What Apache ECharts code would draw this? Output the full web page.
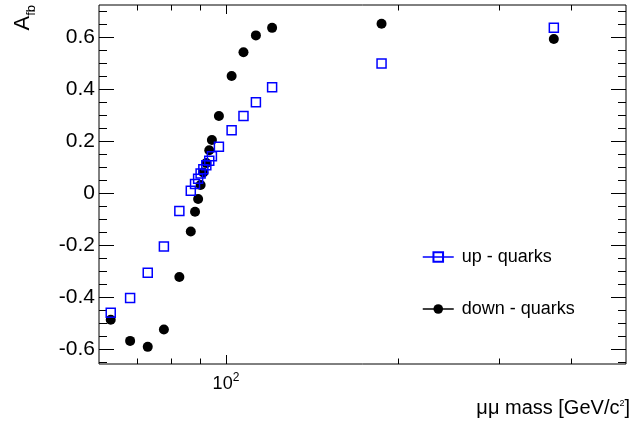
<!DOCTYPE html>
<html><head><meta charset="utf-8">
<script src="https://cdn.jsdelivr.net/npm/echarts@6/dist/echarts.min.js"></script>
<style>html,body{margin:0;padding:0;background:#fff}#c{width:632px;height:421px}</style>
</head><body><div id="c"></div>
<script>
// dimuon mass [GeV/c^2]
const massValues = [62.9, 68.0, 73.0, 77.9, 82.9, 86.8, 88.3, 89.4, 90.3, 91.3, 92.4, 93.5, 94.5, 97.2, 102.3, 107.3, 112.8, 120.4, 187, 374];
// forward-backward asymmetry
const upQuarks   = [-0.460, -0.403, -0.306, -0.205, -0.068, 0.010, 0.036, 0.056, 0.076, 0.093, 0.108, 0.125, 0.143, 0.179, 0.243, 0.298, 0.351, 0.408, 0.500, 0.637];
const downQuarks = [-0.487, -0.568, -0.591, -0.524, -0.322, -0.147, -0.071, -0.022, 0.032, 0.080, 0.117, 0.166, 0.205, 0.298, 0.452, 0.543, 0.608, 0.637, 0.653, 0.594];

const xMajorTicks = [100];
const xMinorTicks = [70, 80, 90, 200, 300, 400];
const yMajorTicks = [-0.6, -0.4, -0.2, 0, 0.2, 0.4, 0.6];
const yMinorTicks = [-0.65, -0.55, -0.5, -0.45, -0.35, -0.3, -0.25, -0.15, -0.1, -0.05, 0.05, 0.1, 0.15, 0.25, 0.3, 0.35, 0.45, 0.5, 0.55, 0.65, 0.7];
const xTickLabels = {100: '{b|10}{s|2}'};

const X_MIN = 60, X_MAX = 500, Y_MIN = -0.657, Y_MAX = 0.725;
const FONT = '"Liberation Sans", Arial, Helvetica, sans-serif';

const chart = echarts.init(document.getElementById('c'), null, {renderer: 'canvas'});

function xTickData() {
  return xMajorTicks.map(v => [v, Y_MIN, 9]).concat(xMinorTicks.map(v => [v, Y_MIN, 5.5]));
}
function yTickData() {
  return yMajorTicks.map(v => [X_MIN, v, 15]).concat(yMinorTicks.map(v => [X_MIN, v, 8]));
}
function tickSeries(data, isX) {
  return {
    type: 'custom', silent: true, z: 1, animation: false,
    data: data, encode: {x: 0, y: 1},
    renderItem: function (params, api) {
      const cs = params.coordSys;
      const len = api.value(2);
      const st = {stroke: '#000', lineWidth: 1};
      if (isX) {
        const px = Math.round(api.coord([api.value(0), Y_MIN])[0]) + 0.5;
        const b = cs.y + cs.height, t = cs.y;
        return {type: 'group', children: [
          {type: 'line', shape: {x1: px, y1: b, x2: px, y2: b - len}, style: st},
          {type: 'line', shape: {x1: px, y1: t, x2: px, y2: t + len}, style: st}
        ]};
      } else {
        const py = Math.round(api.coord([X_MIN, api.value(1)])[1]) + 0.5;
        const l = cs.x, r = cs.x + cs.width;
        return {type: 'group', children: [
          {type: 'line', shape: {x1: l, y1: py, x2: l + len, y2: py}, style: st},
          {type: 'line', shape: {x1: r, y1: py, x2: r - len, y2: py}, style: st}
        ]};
      }
    }
  };
}

const option = {
  animation: false,
  backgroundColor: '#fff',
  grid: {left: 99, right: 6, top: 5, bottom: 57, show: true, borderColor: '#000', borderWidth: 1, backgroundColor: 'transparent'},
  xAxis: {
    type: 'log', logBase: 10, min: X_MIN, max: X_MAX,
    axisLine: {show: false}, axisTick: {show: false}, splitLine: {show: false}, minorTick: {show: false},
    axisLabel: {
      margin: 8, color: '#000', fontFamily: FONT, fontSize: 18, showMinLabel: false, showMaxLabel: false,
      formatter: function (v) { for (const k in xTickLabels) { if (Math.abs(v - Number(k)) < 1e-6 * Number(k)) return xTickLabels[k]; } return ''; },
      rich: {
        b: {fontSize: 18, lineHeight: 21, verticalAlign: 'bottom', fontFamily: FONT, color: '#000'},
        s: {fontSize: 12, lineHeight: 21, verticalAlign: 'top', fontFamily: FONT, color: '#000'}
      }
    }
  },
  yAxis: {
    type: 'value', min: Y_MIN, max: Y_MAX, splitNumber: 7,
    axisLine: {show: false}, axisTick: {show: false}, splitLine: {show: false}, minorTick: {show: false},
    axisLabel: {margin: 4, color: '#000', fontSize: 21, fontFamily: FONT, showMinLabel: false, showMaxLabel: false}
  },
  legend: {
    orient: 'vertical', left: 422, top: 248, itemWidth: 31, itemHeight: 12, itemGap: 34, padding: 0,
    selectedMode: false,
    data: ['up - quarks', 'down - quarks'],
    textStyle: {fontSize: 18, color: '#000', fontFamily: FONT, padding: [0, 0, 0, 3]},
    lineStyle: {opacity: 1, width: 1.5}
  },
  graphic: [
    {type: 'text', x: 38, y: 5, rotation: Math.PI / 2,
     style: {text: '{a|A}{s|fb}', align: 'right', verticalAlign: 'bottom',
       rich: {a: {fontSize: 22, lineHeight: 26, verticalAlign: 'top', fontFamily: FONT, fill: '#000'},
              s: {fontSize: 13, lineHeight: 26, verticalAlign: 'bottom', fontFamily: FONT, fill: '#000'}}}},
    {type: 'text', right: 2, top: 396,
     style: {text: '{t|\u03bc\u03bc mass [GeV/c}{s|2}{t|]}',
       rich: {t: {fontSize: 20, lineHeight: 22, verticalAlign: 'bottom', fontFamily: FONT, fill: '#000'},
              s: {fontSize: 9, lineHeight: 22, verticalAlign: 'top', padding: [3, 0, 0, 0], fontFamily: FONT, fill: '#000'}}}}
  ],
  series: [
    {
      name: 'down - quarks', type: 'line', z: 3,
      data: massValues.map((m, i) => [m, downQuarks[i]]),
      symbol: 'circle', symbolSize: 10, showSymbol: true, showAllSymbol: true,
      lineStyle: {color: '#000', opacity: 0, width: 1.5},
      itemStyle: {color: '#000'},
      emphasis: {disabled: true}
    },
    {
      name: 'up - quarks', type: 'line', z: 4,
      data: massValues.map((m, i) => [m, upQuarks[i]]),
      symbol: 'rect', symbolSize: 9, showSymbol: true, showAllSymbol: true,
      lineStyle: {color: '#0000ff', opacity: 0, width: 1.5},
      itemStyle: {color: 'rgba(255,255,255,0)', borderColor: '#0000ff', borderWidth: 1.5},
      emphasis: {disabled: true}
    },
    tickSeries(xTickData(), true),
    tickSeries(yTickData(), false)
  ]
};
chart.setOption(option);
</script>
</body></html>
